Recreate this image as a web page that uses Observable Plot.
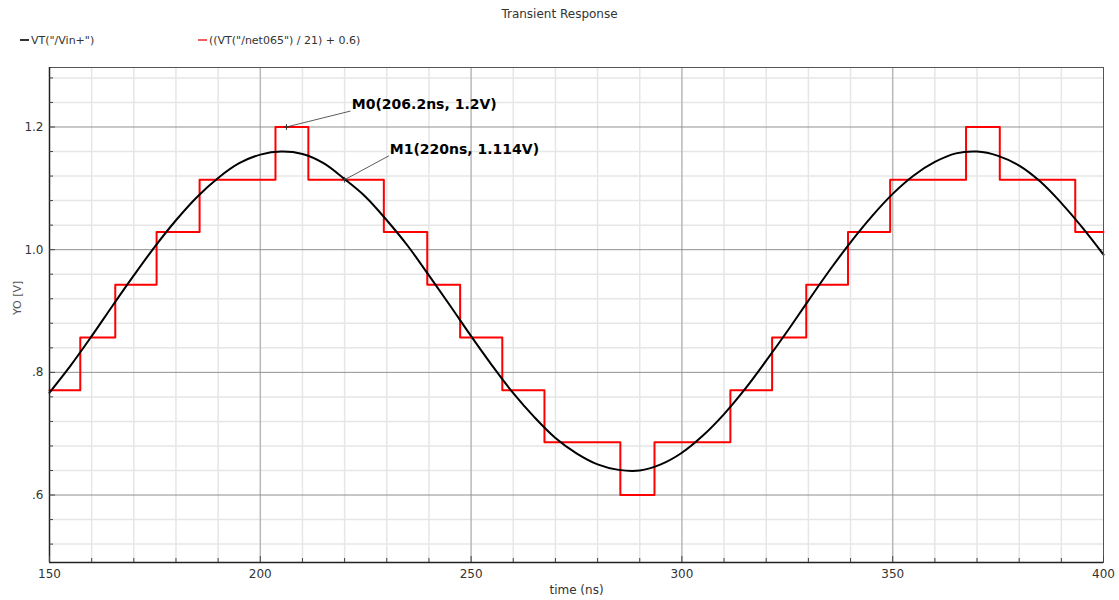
<!DOCTYPE html>
<html>
<head>
<meta charset="utf-8">
<script src="https://cdn.jsdelivr.net/npm/d3@7"></script>
<script src="https://cdn.jsdelivr.net/npm/@observablehq/plot@0.6"></script>
<style>
  html, body { margin: 0; padding: 0; background: #fff; }
  body { width: 1119px; height: 600px; overflow: hidden; font-family: "DejaVu Sans", sans-serif; color: #333; }
  #head { position: relative; height: 60px; }
  #title { position: absolute; left: 0; right: 0; top: 7px; text-align: center; font-size: 12px; color: #333; }
  .leg { position: absolute; top: 34px; font-size: 11px; color: #333; white-space: nowrap; }
  .sw { display: inline-block; width: 9px; height: 1.5px; vertical-align: middle; margin-right: 2px; position: relative; top: -1px; }
</style>
</head>
<body>
<div id="head">
  <div id="title"></div>
  <div class="leg" id="leg0" style="left:20px"></div>
  <div class="leg" id="leg1" style="left:198px"></div>
</div>
<div id="chart"></div>
<script>
// ---- chart text ----
const titleText = "Transient Response";
const seriesNames = ["VT(\"/Vin+\")", "((VT(\"/net065\") / 21) + 0.6)"];
const seriesColors = ["#000000", "#ff0000"];
const xLabel = "time (ns)";
const yLabel = "YO [V]";

// ---- black series: VT("/Vin+") (time ns, volts) ----
const vinTime = [150,155,160,165,170,175,180,185,190,195,200,205,210,215,220,225,230,235,240,245,250,255,260,265,270,275,280,285,290,295,300,305,310,315,320,325,330,335,340,345,350,355,360,365,370,375,380,385,390,395,400];
const vinVolt = [0.767,0.811,0.859,0.909,0.958,1.005,1.048,1.086,1.117,1.141,1.155,1.160,1.156,1.141,1.115,1.086,1.048,1.006,0.958,0.909,0.859,0.811,0.766,0.727,0.693,0.668,0.650,0.641,0.640,0.650,0.669,0.697,0.732,0.773,0.819,0.867,0.917,0.966,1.012,1.054,1.091,1.121,1.143,1.157,1.160,1.153,1.137,1.111,1.076,1.036,0.992];

// ---- red series: quantized output, step starts (time ns, volts) ----
const stepTime = [150,157.3,165.6,175.4,185.6,203.6,211.4,229.3,239.6,247.4,257.4,267.4,285.4,293.5,311.5,321.4,329.5,339.4,349.4,367.4,375.4,393.3,400];
const stepVolt = [0.771,0.857,0.943,1.029,1.114,1.2,1.114,1.029,0.943,0.857,0.771,0.686,0.6,0.686,0.771,0.857,0.943,1.029,1.114,1.2,1.114,1.029,1.029];

// ---- markers ----
const markerLabels = ["M0(206.2ns, 1.2V)", "M1(220ns, 1.114V)"];
const markerTime = [206.2, 220];
const markerVolt = [1.2, 1.114];
const markerLabelTime = [221.7, 230.7];
const markerLabelVolt = [1.236, 1.163];
const markerLeadTime = [221.4, 230.5];
const markerLeadVolt = [1.226, 1.153];

// ---- axes / grid ----
const xDomain = [150, 400];
const yDomain = [0.49, 1.297];
const xMajor = [150, 200, 250, 300, 350, 400];
const xMinor = [160,170,180,190,210,220,230,240,260,270,280,290,310,320,330,340,360,370,380,390];
const yMajor = [0.6, 0.8, 1.0, 1.2];
const yMinor = [0.52,0.56,0.64,0.68,0.72,0.76,0.84,0.88,0.92,0.96,1.04,1.08,1.12,1.16,1.24,1.28];
const yTickFormat = d => d.toFixed(1).replace(/^0/, "");

// header
document.getElementById("title").textContent = titleText;
[0, 1].forEach(i => {
  const el = document.getElementById("leg" + i);
  const sw = document.createElement("span");
  sw.className = "sw";
  sw.style.background = i === 0 ? "#333" : "#f06060";
  el.appendChild(sw);
  el.appendChild(document.createTextNode(seriesNames[i]));
});

const vin = vinTime.map((t, i) => ({t, v: vinVolt[i]}));
const steps = stepTime.map((t, i) => ({t, v: stepVolt[i]}));
const markers = markerLabels.map((label, i) => ({
  label, t: markerTime[i], v: markerVolt[i],
  lt: markerLabelTime[i], lv: markerLabelVolt[i],
  et: markerLeadTime[i], ev: markerLeadVolt[i]
}));

const chart = Plot.plot({
  width: 1119,
  height: 540,
  marginTop: 7,
  marginBottom: 38,
  marginLeft: 49,
  marginRight: 16,
  x: {domain: xDomain},
  y: {domain: yDomain},
  style: {fontFamily: "DejaVu Sans", fontSize: "11px", color: "#333", background: "#fff"},
  marks: [
    Plot.ruleX(xMinor, {stroke: "#e6e6e6", strokeWidth: 1.5}),
    Plot.ruleY(yMinor, {stroke: "#e6e6e6", strokeWidth: 1.5}),
    Plot.ruleX(xMajor.slice(1, -1), {stroke: "#b8b8b8", strokeWidth: 1.5}),
    Plot.ruleY(yMajor, {stroke: "#909090", strokeWidth: 1}),
    Plot.line(steps, {x: "t", y: "v", curve: "step-after", stroke: seriesColors[1], strokeWidth: 2}),
    Plot.line(vin, {x: "t", y: "v", curve: "catmull-rom", stroke: seriesColors[0], strokeWidth: 2}),
    Plot.link(markers, {x1: "t", y1: "v", x2: "et", y2: "ev", stroke: "#333", strokeWidth: 0.8}),
    Plot.dot(markers, {x: "t", y: "v", symbol: "plus", r: 2, stroke: "#333", strokeWidth: 1}),
    Plot.text(markers, {x: "lt", y: "lv", text: "label", textAnchor: "start", fontWeight: "bold", fontSize: 14, fill: "#000"}),
    Plot.frame({stroke: "#555", strokeWidth: 1}),
    Plot.ruleX([xDomain[0]], {stroke: "#222", strokeWidth: 1.5}),
    Plot.ruleY([yDomain[0]], {stroke: "#222", strokeWidth: 1.5}),
    Plot.axisX(xMajor, {tickSize: -6, tickPadding: 13, label: null, fontSize: 12, stroke: "#444"}),
    Plot.axisX(xMinor, {tickSize: -4, text: null, label: null, stroke: "#444"}),
    Plot.axisY(yMajor, {tickSize: -6, tickPadding: 12, tickFormat: yTickFormat, label: null, fontSize: 12, stroke: "#444"}),
    Plot.axisY(yMinor, {tickSize: -4, text: null, label: null, stroke: "#444"}),
    Plot.text([xLabel], {frameAnchor: "bottom", dy: 31, fontSize: 12, fill: "#333"}),
    Plot.text([yLabel], {frameAnchor: "left", dx: -32, rotate: -90, fontSize: 11, fill: "#555"})
  ]
});
document.getElementById("chart").appendChild(chart);
</script>
</body>
</html>
